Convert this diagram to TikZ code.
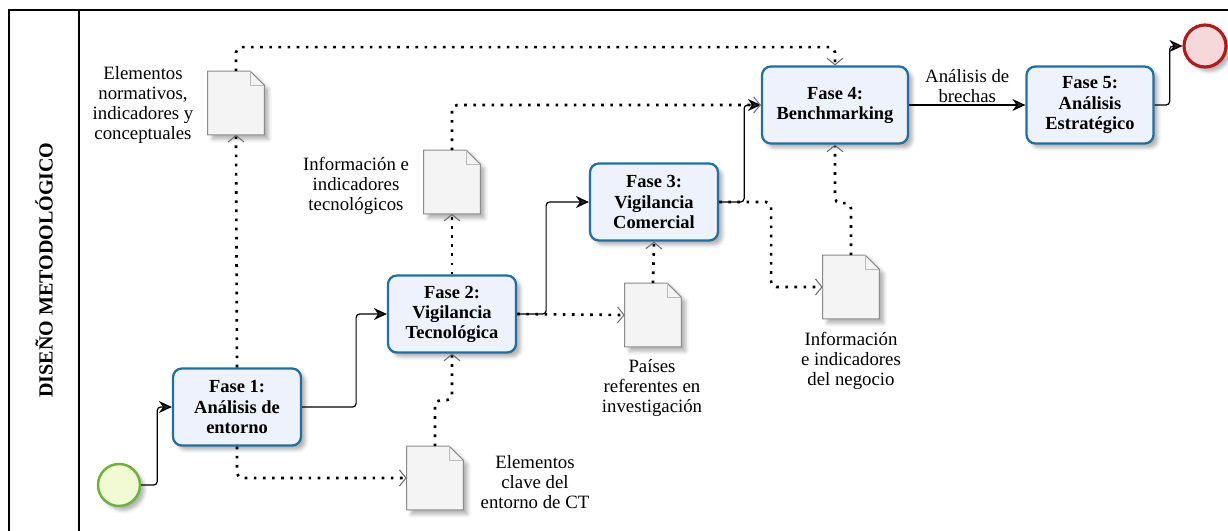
\documentclass[tikz,border=0pt]{standalone}
\usepackage{fontspec}
\setmainfont{Liberation Serif}
\usepackage{tikz}
\usetikzlibrary{calc,arrows.meta,positioning,shadows.blur}
\definecolor{boxc}{HTML}{1F6FA3}
\definecolor{boxbg}{HTML}{EEF2FC}
\definecolor{startc}{HTML}{6CB33E}
\definecolor{startbg}{HTML}{F1FAD2}
\definecolor{endc}{HTML}{B01C1C}
\definecolor{endbg}{HTML}{F6D8DB}
\definecolor{docc}{HTML}{8C8C8C}
\definecolor{docbg}{HTML}{F4F4F4}
\definecolor{tipc}{HTML}{6E6E6E}
\tikzset{
  shd/.style={blur shadow={shadow xshift=2.5pt,shadow yshift=-2.5pt,shadow blur radius=2pt,shadow opacity=30}},
  flow/.style={-{Stealth[length=2.6mm,width=2.4mm]},line width=0.7pt,rounded corners=2pt},
  dots/.style={line width=1.5pt,dash pattern=on 1.5pt off 3.7pt,rounded corners=3pt,
    -{Straight Barb[length=1.3mm,width=3.2mm,line width=0.6pt,color=tipc]}},
  fase/.style={draw=boxc,line width=1.3pt,rounded corners=5pt,fill=boxbg,shd,align=center,
    font=\fontsize{10.5}{11.4}\selectfont\bfseries,minimum width=2.56cm,minimum height=1.54cm,inner sep=2pt},
  doc/.style={minimum width=1.12cm,minimum height=1.26cm,inner sep=0pt},
  lbl/.style={align=center,font=\fontsize{10.7}{11.5}\selectfont},
  ev/.style={circle,minimum size=0.84cm,inner sep=0pt,shd}
}
% sheet with folded corner around a doc node
\newcommand{\docsheet}[1]{%
  \draw[docc,fill=docbg,line width=0.6pt,shd] (#1.south west) -- (#1.north west)
    -- ([xshift=-8pt]#1.north east) -- ([yshift=-8pt]#1.north east) -- (#1.south east) -- cycle;
  \draw[docc!60,line width=0.4pt] ([xshift=-8pt]#1.north east) |- ([yshift=-8pt]#1.north east);
}

\begin{document}
\begin{tikzpicture}[x=0.02cm,y=-0.02cm]
\useasboundingbox (0,0) rectangle (1228,531);
% pool frame
\draw[line width=0.8pt] (9,531) -- (9,10) -- (1228,10);
\draw[line width=0.8pt] (79,10) -- (79,531);
\node[rotate=90,font=\fontsize{11.4}{13}\selectfont\bfseries] (ttl) at (44,270) {DISEÑO METODOLÓGICO};

% events and phases
\node[ev,draw=startc,line width=1.4pt,fill=startbg] (start) at (119,485) {};
\node[ev,draw=endc,line width=1.8pt,fill=endbg] (end) at (1205,46) {};
\node[fase] (f1) at (237,407) {Fase 1:\\Análisis de\\entorno};
\node[fase] (f2) at (452,314) {Fase 2:\\Vigilancia\\Tecnológica};
\node[fase] (f3) at (654,202) {Fase 3:\\Vigilancia\\Comercial};
\node[fase,minimum width=2.92cm] (f4) at (835,105) {Fase 4:\\Benchmarking};
\node[fase,minimum width=2.54cm] (f5) at (1090,105) {Fase 5:\\Análisis\\Estratégico};

% documents
\node[doc] (dA) at (236,103) {};
\node[doc] (dB) at (452,182) {};
\node[doc] (dC) at (653,315) {};
\node[doc] (dD) at (851,287) {};
\node[doc] (dE) at (435,478) {};
\foreach \d in {dA,dB,dC,dD,dE}{\docsheet{\d}}

\node[lbl] (lA) at (143,105) {Elementos\\normativos,\\indicadores y\\conceptuales};
\node[lbl] (lB) at (356,186) {Información e\\indicadores\\tecnológicos};
\node[lbl] (lC) at (652,388) {Países\\referentes en\\investigación};
\node[lbl] (lD) at (851,361) {Información\\e indicadores\\del negocio};
\node[lbl] (lE) at (535,482) {Elementos\\clave del\\entorno de CT};

% sequence flow
\draw[flow] (start.east) -- ++(16,0) |- (f1.west);
\draw[flow] (f1.east) -- ++(54,0) |- (f2.west);
\draw[flow] (f2.east) -- ++(29,0) |- (f3.west);
\draw[flow] (f3.east) -- ++(25,0) |- (f4.west);
\draw[flow] (f4) -- node[lbl,above,inner sep=1pt] (gap) {Análisis de\\brechas} (f5);
\draw[flow] (f5.east) -- ++(15,0) |- (end.west);

% data associations
\draw[dots] (f1.north) -- (dA.south);
\draw[dots] (dA.north) -- ++(0,-24) -| (f4.north);
\draw[dots] (f1.south) |- (dE.west);
\draw[dots] (dE.north) -- ++(0,-46) -| (f2.south);
\draw[dots] (f2.north) -- (dB.south);
\draw[dots] (dB.north) |- (f4.west);
\draw[dots] (f2.east) -- (dC.west);
\draw[dots] (dC.north) -- (f3.south);
\draw[dots] (f3.east) -- ++(52,0) |- (dD.west);
\draw[dots] (dD.north) -- ++(0,-52) -| (f4.south);
\end{tikzpicture}
\end{document}
